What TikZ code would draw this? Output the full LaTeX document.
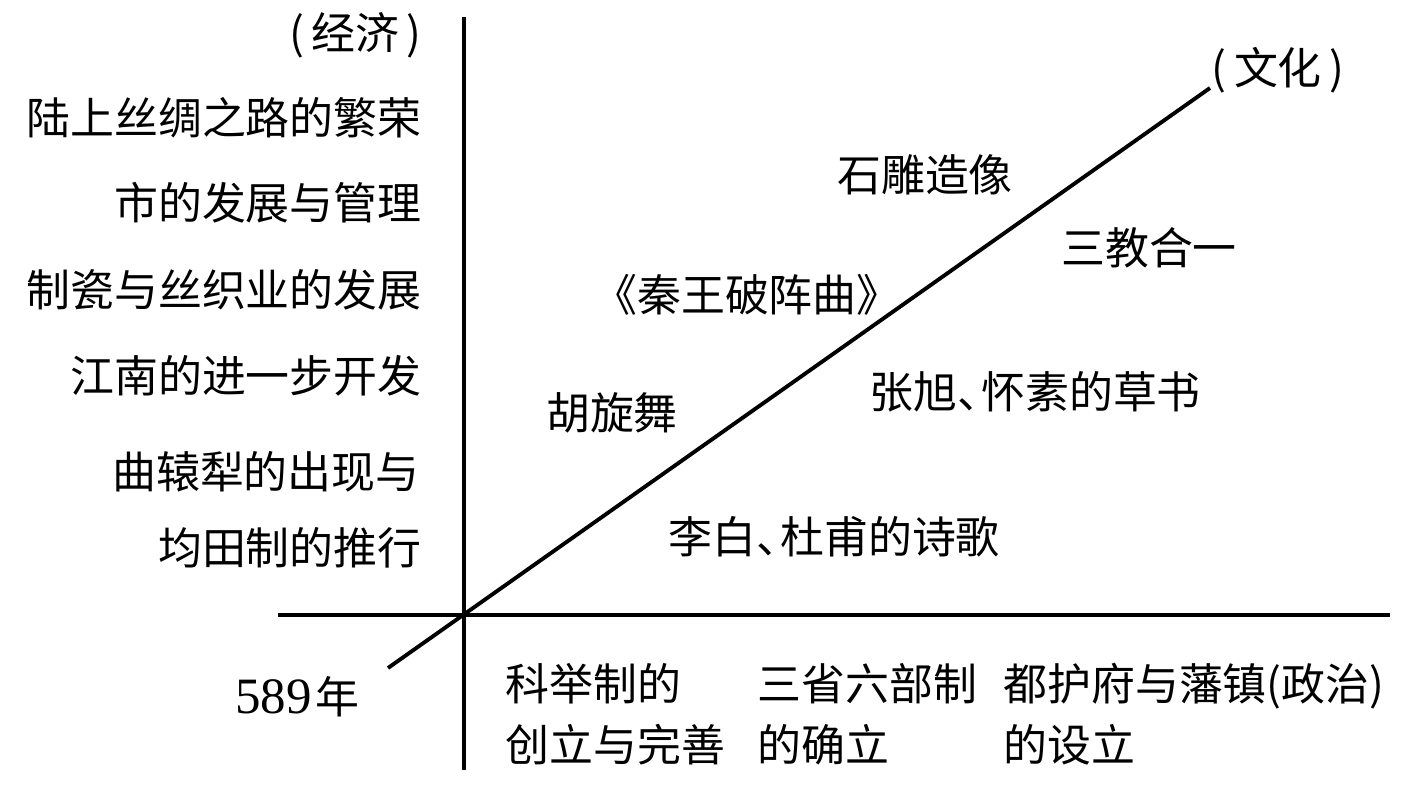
\documentclass[tikz,border=0pt]{standalone}
\usepackage{fontspec}
\setmainfont{Liberation Serif}
\newfontfamily\cjk{Noto Sans CJK SC}
\usepackage{tikz}

\begin{document}
\begin{tikzpicture}[
  x=0.02cm, y=-0.02cm,
  axis/.style={line width=2.2pt},
  lbl/.style={
    inner sep=0pt, font=\cjk\fontsize{25}{35}\selectfont
  },
  two/.style={lbl, align=left, anchor=west}
]
  \useasboundingbox (0,0) rectangle (1421,788);
  % axes
  \coordinate (o) at (464,615);
  \coordinate (top) at (464,17);
  \coordinate (bot) at (464,770);
  \coordinate (left) at (278,615);
  \coordinate (right) at (1390,615);
  \coordinate (start) at (388,668);
  \coordinate (end) at (1210,88);
  \draw[axis] (top)--(bot);
  \draw[axis] (left)--(right);
  \draw[axis] (start)--(end);
  % economy
  \node[lbl, anchor=east] (econ) at (422,35){(\,经济\,)};
  \node[lbl, anchor=east] (silk) at (422,118){陆上丝绸之路的繁荣};
  \node[lbl, anchor=east] (city) at (422,203){市的发展与管理};
  \node[lbl, anchor=east] (porc) at (422,290){制瓷与丝织业的发展};
  \node[lbl, anchor=east] (south) at (422,376){江南的进一步开发};
  \node[lbl, anchor=east] (plow) at (420,472){曲辕犁的出现与};
  \node[lbl, anchor=east] (land) at (422,548){均田制的推行};
  \node[lbl, anchor=west] (year) at (235,697){{\rmfamily\fontsize{29}{35}\selectfont 589}\hspace{0.08em}年};
  % politics
  \node[two] (exam) at (505,714){科举制的\\创立与完善};
  \node[two] (dept) at (757,714){三省六部制\\的确立};
  \node[two] (prot) at (1003,714){都护府与藩镇(政治)\\的设立};
  % culture
  \node[lbl] (cult) at (1278,70){(\,文化\,)};
  \node[lbl] (stone) at (925,175){石雕造像};
  \node[lbl] (three) at (1149,248){三教合一};
  \node[lbl] (qin) at (747,295){《秦王破阵曲》};
  \node[lbl] (cao) at (1035,392){张旭、\hspace{-0.45em}怀素的草书};
  \node[lbl] (dance) at (612,413){胡旋舞};
  \node[lbl] (poem) at (834,537){李白、\hspace{-0.45em}杜甫的诗歌};
\end{tikzpicture}
\end{document}
